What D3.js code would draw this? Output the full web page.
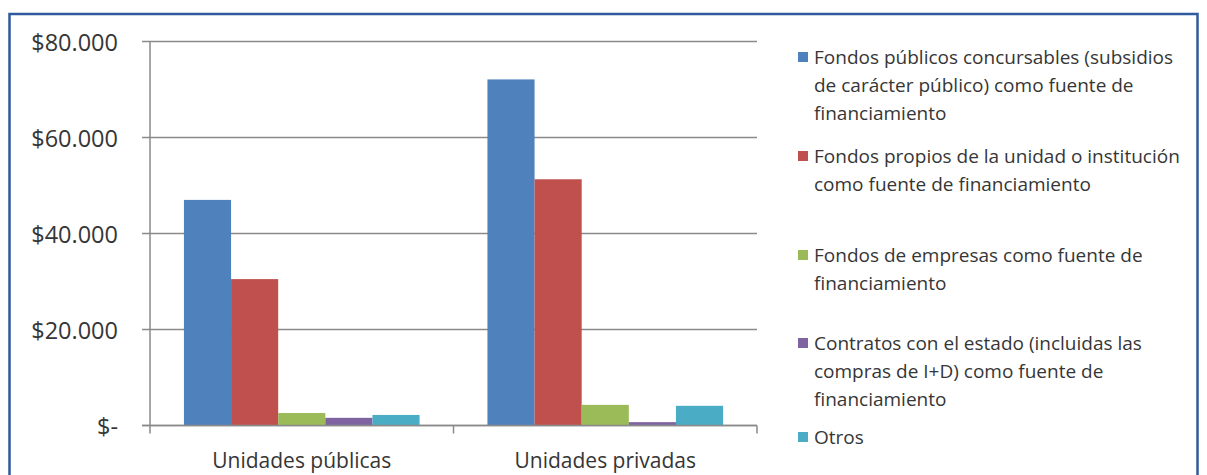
<!DOCTYPE html>
<html>
<head>
<meta charset="utf-8">
<script src="https://cdn.jsdelivr.net/npm/d3@7"></script>
<style>
  body { margin: 0; background: #fff; }
  svg { display: block; }
  text { font-family: "Open Sans", "DejaVu Sans", sans-serif; fill: #363636; }
</style>
</head>
<body>
<svg id="chart" width="1207" height="475"></svg>
<script>
// Financing sources by type of unit (amounts in pesos)
const categories = ["Unidades públicas", "Unidades privadas"];
const fondosPublicos = [47000, 72100];
const fondosPropios = [30500, 51300];
const fondosEmpresas = [2600, 4300];
const contratosEstado = [1600, 700];
const otros = [2200, 4100];

const seriesLabels = [
  ["Fondos públicos concursables (subsidios", "de carácter público) como fuente de", "financiamiento"],
  ["Fondos propios de la unidad o institución", "como fuente de financiamiento"],
  ["Fondos de empresas como fuente de", "financiamiento"],
  ["Contratos con el estado (incluidas las", "compras de I+D) como fuente de", "financiamiento"],
  ["Otros"]
];
const seriesColors = ["#4f81bd", "#c0504d", "#9bbb59", "#8064a2", "#4bacc6"];

const yTicks = [0, 20000, 40000, 60000, 80000];
const yTickLabels = ["$-", "$20.000", "$40.000", "$60.000", "$80.000"];

const series = [fondosPublicos, fondosPropios, fondosEmpresas, contratosEstado, otros];

const svg = d3.select("#chart");

// outer frame
svg.append("rect")
  .attr("x", 9.5).attr("y", 14)
  .attr("width", 1188).attr("height", 470)
  .attr("fill", "#fff")
  .attr("stroke", "#2f5a9e")
  .attr("stroke-width", 2.5);

const plot = { left: 150, right: 757, top: 41.5, bottom: 425.5 };

const x0 = d3.scaleBand().domain(categories).range([plot.left, plot.right]).padding(0);
const x1 = d3.scaleBand().domain(d3.range(series.length)).range([0, x0.bandwidth()])
  .paddingInner(0).paddingOuter(0.72);
const y = d3.scaleLinear().domain([0, 80000]).range([plot.bottom, plot.top]);

const gridColor = "#8a8a8a";

// horizontal gridlines with outside ticks
svg.append("g").selectAll("line").data(yTicks).join("line")
  .attr("x1", plot.left - 8).attr("x2", plot.right)
  .attr("y1", d => y(d)).attr("y2", d => y(d))
  .attr("stroke", gridColor).attr("stroke-width", 1.5);

// y tick labels
svg.append("g").selectAll("text").data(yTicks).join("text")
  .attr("x", 118).attr("y", d => y(d))
  .attr("text-anchor", "end")
  .attr("dominant-baseline", "central")
  .attr("font-size", 23.5)
  .text((d, i) => yTickLabels[i]);

// bars
const groups = svg.append("g").selectAll("g").data(categories).join("g")
  .attr("transform", d => `translate(${x0(d)},0)`);
groups.selectAll("rect")
  .data((c, ci) => series.map((s, si) => ({ si, v: s[ci] })))
  .join("rect")
  .attr("x", d => x1(d.si))
  .attr("width", x1.bandwidth())
  .attr("y", d => y(d.v))
  .attr("height", d => y(0) - y(d.v))
  .attr("fill", d => seriesColors[d.si]);

// axis lines, drawn over the bars' bottom edge
svg.append("line")
  .attr("x1", plot.left).attr("x2", plot.left)
  .attr("y1", plot.top).attr("y2", plot.bottom + 8)
  .attr("stroke", gridColor).attr("stroke-width", 1.5);
svg.append("line")
  .attr("x1", plot.left - 8).attr("x2", plot.right)
  .attr("y1", plot.bottom).attr("y2", plot.bottom)
  .attr("stroke", gridColor).attr("stroke-width", 1.5);

// category tick marks between groups
const catEdges = categories.map(c => x0(c) + x0.bandwidth());
svg.append("g").selectAll("line").data(catEdges).join("line")
  .attr("x1", d => d).attr("x2", d => d)
  .attr("y1", plot.bottom).attr("y2", plot.bottom + 8)
  .attr("stroke", gridColor).attr("stroke-width", 1.5);

// category labels
svg.append("g").selectAll("text").data(categories).join("text")
  .attr("x", d => x0(d) + x0.bandwidth() / 2)
  .attr("y", 468)
  .attr("text-anchor", "middle")
  .attr("font-size", 21)
  .text(d => d);

// legend
const legendTops = [57, 156, 255, 343, 437];
const lineH = 28;
const legend = svg.append("g");
seriesLabels.forEach((lines, i) => {
  const g = legend.append("g").attr("transform", `translate(798,${legendTops[i]})`);
  g.append("rect").attr("x", 0).attr("y", -5).attr("width", 10).attr("height", 10)
    .attr("fill", seriesColors[i]);
  g.selectAll("text").data(lines).join("text")
    .attr("x", 16)
    .attr("y", (d, j) => j * lineH)
    .attr("dominant-baseline", "central")
    .attr("font-size", 19)
    .text(d => d);
});
</script>
</body>
</html>
